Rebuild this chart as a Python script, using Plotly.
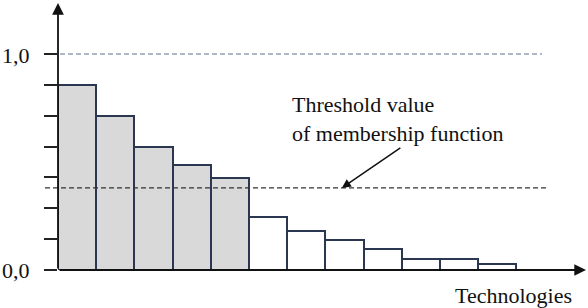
import plotly.graph_objects as go

# ---- data ----
technologies = list(range(1, 13))
membership = [0.857, 0.714, 0.571, 0.487, 0.427, 0.246, 0.180, 0.139, 0.099, 0.049, 0.049, 0.028]
threshold = 0.38
y_ticks = [k / 7 for k in range(8)]
y_labels = ["0,0", "1,0"]
x_title = "Technologies"
note_text = "Threshold value<br>of membership function"

# ---- style ----
FONT = "'Times New Roman', 'Liberation Serif', 'DejaVu Serif', serif"
NAVY = "#2b3650"
GREY_FILL = "#d9d9d9"

W, H = 588, 308
L, B, T, R = 58, 38, 0, 0
plot_w = W - L - R
plot_h = H - T - B
bar_px = 38.2
x_max = plot_w / bar_px
y_max = plot_h / 216.0

def px_x(p):  # pixel -> paper
    return (p - L) / plot_w

def px_y(p):
    return (H - B - p) / plot_h

colors = [GREY_FILL if v >= threshold else "white" for v in membership]
centers = [i - 0.5 for i in technologies]

fig = go.Figure()
fig.add_trace(go.Bar(
    x=centers, y=membership, width=1,
    marker=dict(color=colors, line=dict(color=NAVY, width=2)),
    hoverinfo="skip", showlegend=False,
))

shapes = [
    dict(type="line", xref="paper", yref="y", x0=px_x(60), x1=px_x(542), y0=1.0, y1=1.0,
         line=dict(color="#5f7390", width=1.2, dash="5px,3px"), layer="below"),
    dict(type="line", xref="paper", yref="y", x0=px_x(45), x1=px_x(546), y0=threshold, y1=threshold,
         line=dict(color="#333333", width=1.4, dash="5px,3px"), layer="above"),
]

annotations = [
    dict(x=0, y=px_y(3), xref="paper", yref="paper", ax=0, ay=267, axref="pixel", ayref="pixel",
         text="", showarrow=True, arrowhead=2, arrowsize=1.3, arrowwidth=1.8, arrowcolor="#111111", standoff=0),
    dict(x=px_x(586), y=0, xref="paper", yref="y", ax=-528, ay=0, axref="pixel", ayref="pixel",
         text="", showarrow=True, arrowhead=2, arrowsize=1.3, arrowwidth=1.8, arrowcolor="#111111", standoff=0),
    dict(x=7.43, y=threshold, xref="x", yref="y", ax=60, ay=-41, axref="pixel", ayref="pixel",
         text="", showarrow=True, arrowhead=2, arrowsize=1.2, arrowwidth=1.5, arrowcolor="#111111", standoff=0),
    dict(x=px_x(290), y=px_y(119), xref="paper", yref="paper", xanchor="left", yanchor="middle",
         align="left", showarrow=False, text=note_text,
         font=dict(family=FONT, size=22, color="#111111")),
    dict(x=px_x(16), y=px_y(55), xref="paper", yref="paper", xanchor="center", yanchor="middle",
         showarrow=False, text=y_labels[1], font=dict(family=FONT, size=22, color="#111111")),
    dict(x=px_x(16), y=px_y(270), xref="paper", yref="paper", xanchor="center", yanchor="middle",
         showarrow=False, text=y_labels[0], font=dict(family=FONT, size=22, color="#111111")),
    dict(x=px_x(513), y=px_y(295), xref="paper", yref="paper", xanchor="center", yanchor="middle",
         showarrow=False, text=x_title, font=dict(family=FONT, size=22, color="#111111")),
]

fig.update_layout(
    width=W, height=H,
    margin=dict(l=L, r=R, t=T, b=B, pad=0),
    paper_bgcolor="white", plot_bgcolor="white",
    bargap=0,
    font=dict(family=FONT),
    shapes=shapes, annotations=annotations,
    xaxis=dict(range=[0, x_max], showgrid=False, zeroline=False, showline=False,
               showticklabels=False, ticks="", fixedrange=True),
    yaxis=dict(range=[0, y_max], showgrid=False, zeroline=False, showline=False,
               tickmode="array", tickvals=y_ticks, ticks="outside", ticklen=13,
               tickwidth=2, tickcolor="#222222", showticklabels=False, fixedrange=True),
)

fig.write_html("out.html", post_script="document.body.style.margin='0';document.body.style.overflow='hidden';",
               config={"displayModeBar": False})
